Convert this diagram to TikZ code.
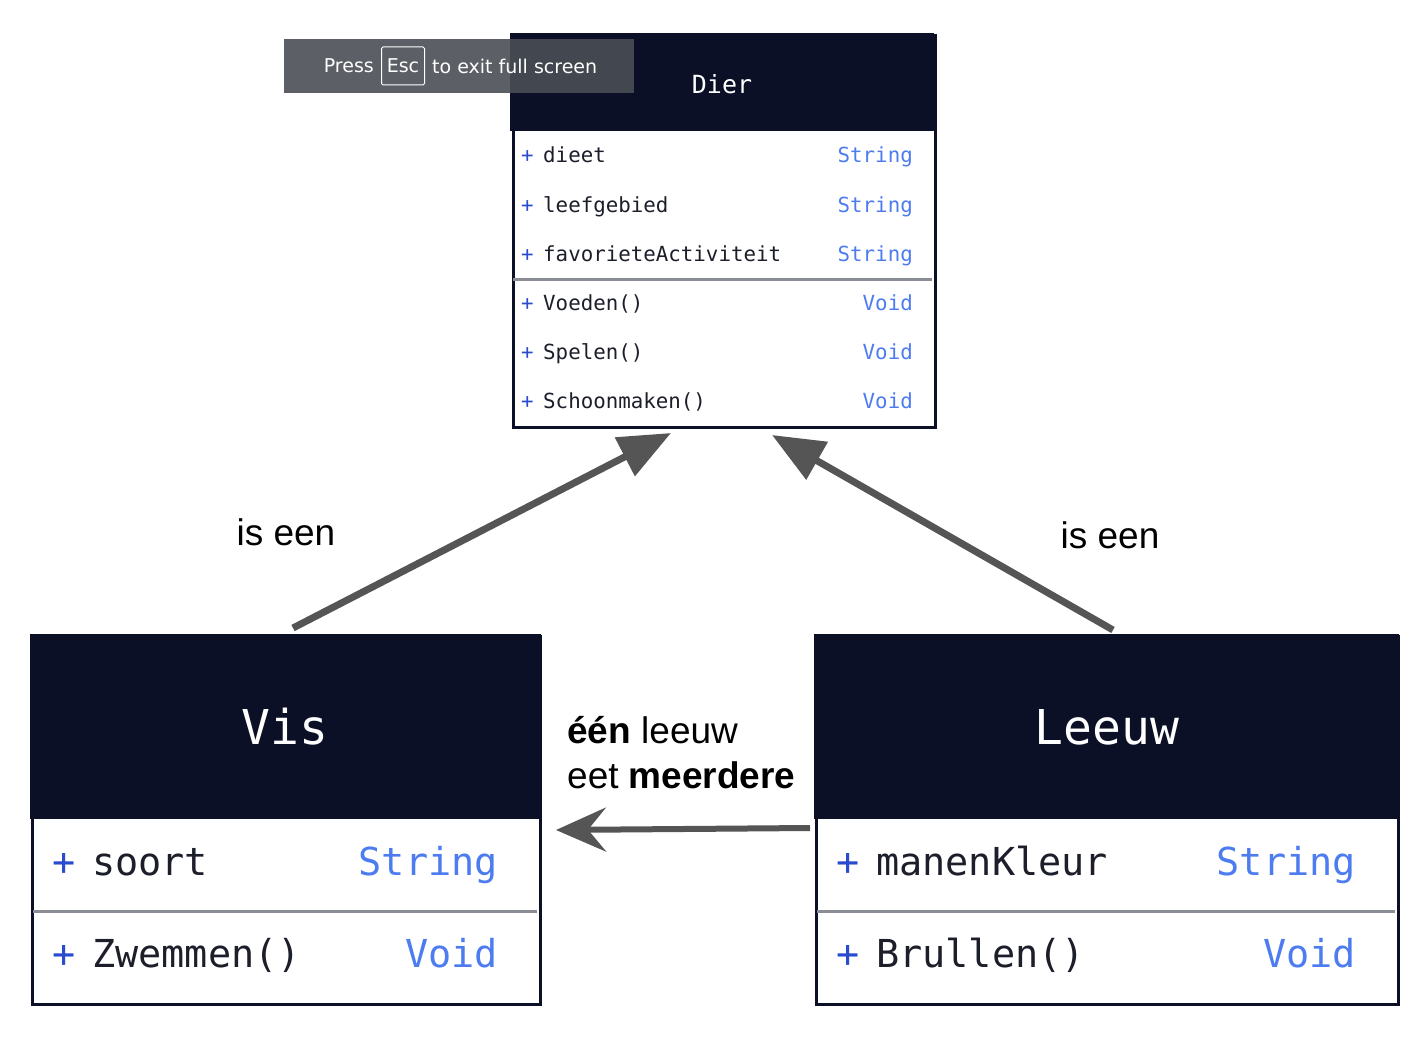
\documentclass[tikz,border=0pt]{standalone}
\usepackage{fontspec}
\setmainfont{Liberation Sans}
\newfontfamily\umlmono{DejaVu Sans Mono}
\newfontfamily\osdfont{DejaVu Sans}
\usetikzlibrary{arrows.meta}
\definecolor{hdr}{HTML}{0B1026}
\definecolor{sep}{HTML}{8A8D96}
\definecolor{typ}{HTML}{4D7CF0}
\definecolor{plus}{HTML}{2A4BD0}
\definecolor{txt}{HTML}{1C1E2A}
\definecolor{arr}{HTML}{555555}
\definecolor{osd}{HTML}{4A4E55}
\tikzset{
  classbox/.style={draw=hdr, line width=3pt, fill=white, anchor=north west, inner sep=0pt},
  header/.style={fill=hdr, anchor=north west, inner sep=0pt},
  sepline/.style={draw=sep, line width=3pt},
  small/.style={font=\umlmono\fontsize{20.8}{24}\selectfont},
  big/.style={font=\umlmono\fontsize{38.5}{44}\selectfont},
  pl/.style={text=plus, anchor=base west, inner sep=0pt},
  nm/.style={text=txt, anchor=base west, inner sep=0pt},
  ty/.style={text=typ, anchor=base east, inner sep=0pt},
  ttl/.style={text=white, anchor=center, inner sep=0pt},
  inherit/.style={draw=arr, line width=7pt, -{Triangle[length=52pt,width=42pt]}},
  assoc/.style={draw=arr, line width=6pt, -{Stealth[length=50pt,width=44pt,inset=18pt]}},
  lbl/.style={font=\fontsize{37}{45}\selectfont, text=black, inner sep=0pt},
}
\begin{document}
\begin{tikzpicture}[x=1pt,y=-1pt]
\useasboundingbox (0,0) rectangle (1416,1046);
% ---------------- Dier ----------------
\node[classbox, minimum width=422pt, minimum height=391pt] (dier) at (511.5,34.5) {};
\node[header, minimum width=424pt, minimum height=98pt] (dierh) at (510,33) {};
\node[ttl, font=\umlmono\fontsize{25}{29}\selectfont] (diert) at (722,84) {Dier};
\draw[sepline] (513,279) -- (932,279);
\foreach \y/\n/\t [count=\i] in {163/dieet/String, 212/leefgebied/String, 261/favorieteActiviteit/String, 310/Voeden()/Void, 359/Spelen()/Void, 408/Schoonmaken()/Void}{
  \node[small, pl] (dp\i) at (521,\y) {+};
  \node[small, nm] (dn\i) at (543,\y) {\n};
  \node[small, ty] (dt\i) at (913,\y) {\t};
}
% ---------------- Vis ----------------
\node[classbox, minimum width=508pt, minimum height=368pt] (vis) at (31,635) {};
\node[header, minimum width=511pt, minimum height=185pt] (vish) at (29.5,633.5) {};
\node[ttl, font=\umlmono\fontsize{48}{56}\selectfont] (vist) at (285,727) {Vis};
\draw[sepline] (33,911) -- (537,911);
\node[big, pl] (vp1) at (52,875) {+};
\node[big, nm] (vn1) at (92,875) {soort};
\node[big, ty] (vt1) at (498,875) {String};
\node[big, pl] (vp2) at (52,967) {+};
\node[big, nm] (vn2) at (92,967) {Zwemmen()};
\node[big, ty] (vt2) at (498,967) {Void};
% ---------------- Leeuw ----------------
\node[classbox, minimum width=582pt, minimum height=368pt] (leeuw) at (815,635) {};
\node[header, minimum width=585pt, minimum height=185pt] (leeuwh) at (813.5,633.5) {};
\node[ttl, font=\umlmono\fontsize{48}{56}\selectfont] (leeuwt) at (1107,727) {Leeuw};
\draw[sepline] (817,911) -- (1395,911);
\node[big, pl] (lp1) at (836,875) {+};
\node[big, nm] (ln1) at (876,875) {manenKleur};
\node[big, ty] (lt1) at (1356,875) {String};
\node[big, pl] (lp2) at (836,967) {+};
\node[big, nm] (ln2) at (876,967) {Brullen()};
\node[big, ty] (lt2) at (1356,967) {Void};
% ---------------- connectors ----------------
\coordinate (visTop) at (293,628);
\coordinate (dierL) at (671,433);
\coordinate (leeuwTop) at (1113,630);
\coordinate (dierR) at (772,435);
\coordinate (leeuwL) at (810,828);
\coordinate (visR) at (556,830);
\draw[inherit] (visTop) -- (dierL);
\draw[inherit] (leeuwTop) -- (dierR);
\draw[assoc] (leeuwL) -- (visR);
% ---------------- labels ----------------
\node[lbl] (l1) at (286,532) {is een};
\node[lbl] (l2) at (1110,535) {is een};
\node[lbl, anchor=base west] (l3) at (567,743) {\textbf{één} leeuw};
\node[lbl, anchor=base west] (l4) at (567,788) {eet \textbf{meerdere}};
% ---------------- full-screen overlay ----------------
\node[fill=osd, fill opacity=0.9, anchor=north west, minimum width=350pt, minimum height=54pt, inner sep=0pt] (osd) at (284,39) {};
\node[draw=white, line width=1pt, rounded corners=1.5pt, minimum width=43pt, minimum height=38pt, inner sep=0pt, text=white, font=\osdfont\fontsize{19}{22}\selectfont] (esc) at (403,66) {Esc};
\node[anchor=east, text=white, inner sep=0pt, font=\osdfont\fontsize{19}{22}\selectfont] (press) at (374,66) {Press};
\node[anchor=west, text=white, inner sep=0pt, font=\osdfont\fontsize{19}{22}\selectfont] (exit) at (432,66) {to exit full screen};
\end{tikzpicture}
\end{document}
